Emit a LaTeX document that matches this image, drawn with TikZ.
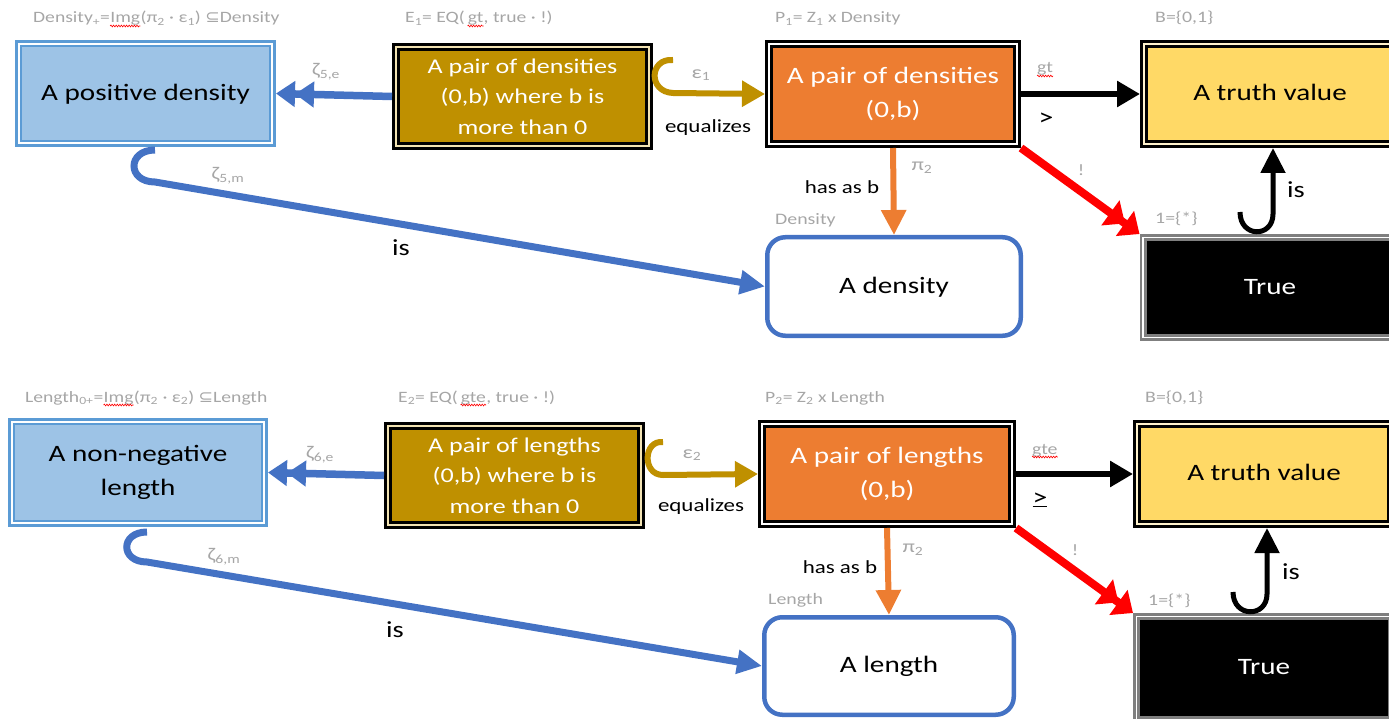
\documentclass[tikz,border=0pt]{standalone}
\usepackage{fontspec}
\setmainfont{Carlito}[FakeStretch=1.24]
\newfontfamily\symfont{DejaVu Sans}[FakeStretch=1.1]
\usetikzlibrary{arrows.meta,calc,decorations.pathmorphing}

\definecolor{boxblue}{HTML}{9DC3E6}
\definecolor{edgeblue}{HTML}{5B9BD5}
\definecolor{arrowblue}{HTML}{4472C4}
\definecolor{gold}{HTML}{BF9000}
\definecolor{cream}{HTML}{F2E3B3}
\definecolor{orng}{HTML}{ED7D31}
\definecolor{yel}{HTML}{FFD966}
\definecolor{paleyel}{HTML}{FFF2CC}
\definecolor{lbl}{HTML}{A6A6A6}
\definecolor{greyrim}{HTML}{7F7F7F}

\newcommand\fsBig{\fontsize{23.5}{34}\selectfont}
\newcommand\fsMid{\fontsize{21}{30.5}\selectfont}
\newcommand\fsLbl{\fontsize{18}{22}\selectfont}
\newcommand\fsTop{\fontsize{15.8}{19}\selectfont}
\newcommand\fsSml{\fontsize{16}{20}\selectfont}
\newcommand\fsEdge{\fontsize{18.5}{22}\selectfont}
\newcommand\fsIs{\fontsize{23}{26}\selectfont}

\tikzset{
  base/.style={align=center, inner sep=0pt},
  bluebox/.style={base, fill=boxblue, draw=edgeblue, line width=2.6pt,
    double=white, double distance=2.2pt, outer sep=3.7pt, font=\fsBig},
  goldbox/.style={base, fill=gold, draw=black, line width=3pt,
    double=cream, double distance=2pt, outer sep=4pt, font=\fsMid, text=white},
  orangebox/.style={base, fill=orng, draw=black, line width=3pt,
    double=white, double distance=1.6pt, outer sep=3.8pt, font=\fsBig, text=white},
  yellowbox/.style={base, fill=yel, draw=black, line width=3pt,
    double=paleyel, double distance=1.6pt, outer sep=3.8pt, font=\fsBig},
  truebox/.style={base, fill=black, draw=greyrim, line width=2.8pt,
    double=white, double distance=1.6pt, outer sep=3.6pt, font=\fsBig, text=white},
  roundbox/.style={base, fill=white, draw=arrowblue, line width=4.5pt,
    rounded corners=18pt, outer sep=2.25pt, font=\fsBig},
  lab/.style={inner sep=0pt, text=lbl, font=\fsLbl},
  toplab/.style={inner sep=0pt, text=lbl, font=\fsTop},
  smlab/.style={inner sep=0pt, text=lbl, font=\fsSml},
  edgelab/.style={inner sep=0pt, font=\fsEdge},
  islab/.style={inner sep=0pt, font=\fsIs},
  squig/.style={draw=red, line width=0.6pt,
    decorate, decoration={snake, amplitude=0.9pt, segment length=2.6pt}},
  blueproj/.style={draw=arrowblue, line width=7.5pt,
    -{Triangle[length=19pt,width=25pt,sep=0pt]Triangle[length=19pt,width=25pt]}},
  bluehook/.style={draw=arrowblue, line width=7pt, -{Triangle[length=25pt,width=23pt]}},
  goldarr/.style={draw=gold, line width=6pt, -{Triangle[length=23pt,width=25pt]}},
  orangearr/.style={draw=orng, line width=6pt, -{Triangle[length=25pt,width=24pt]}},
  blackarr/.style={draw=black, line width=6.5pt, -{Triangle[length=23pt,width=25pt]}},
  redarr/.style={draw=red, line width=8pt,
    -{Triangle[length=18pt,width=30pt,sep=0pt]Triangle[length=18pt,width=30pt]}},
  blackhook/.style={draw=black, line width=5pt, -{Triangle[length=25pt,width=24pt]}},
}

\begin{document}
\begin{tikzpicture}[x=1pt,y=-1pt]
\useasboundingbox (0,0) rectangle (1389,719);
\clip (0,0) rectangle (1389,719);

% ---------- upper diagram: densities ----------
\node[bluebox, minimum width=253.6pt, minimum height=99.6pt] (pd) at (145.5,93.5) {\strut A positive density};
\node[goldbox, minimum width=253pt, minimum height=99pt] (gp1) at (522.5,96.5)
  {A pair of densities\\(0,b) where b is\\more than 0};
\node[orangebox, minimum width=248.4pt, minimum height=100.4pt] (op1) at (893,94)
  {A pair of densities\\(0,b)};
\node[yellowbox, minimum width=252.4pt, minimum height=100.4pt] (yt1) at (1270,94) {\strut A truth value};
\node[roundbox, minimum width=253.5pt, minimum height=98.5pt] (den1) at (894,286.5) {\strut A density};
\node[truebox, minimum width=253.8pt, minimum height=99.8pt] (true1) at (1270,287.5) {\strut True};

% object names above the boxes
\node[toplab, anchor=base west] (t1a) at (33,23) {Density\textsubscript{+}=};
\node[toplab, anchor=base west] (t1b) at (t1a.base east) {Img};
\node[toplab, anchor=base west] (t1c) at (t1b.base east) {(π\textsubscript{2} · ε\textsubscript{1}) {\symfont ⊆}Density};
\draw[squig] ($(t1b.base west)+(0,3)$) -- ($(t1b.base east)+(0,3)$);
\node[toplab, anchor=base west] (t2a) at (405,23) {E\textsubscript{1}= EQ(\,};
\node[toplab, anchor=base west] (t2b) at (t2a.base east) {gt};
\node[toplab, anchor=base west] (t2c) at (t2b.base east) {, true · !)};
\draw[squig] ($(t2b.base west)+(0,3)$) -- ($(t2b.base east)+(0,3)$);
\node[toplab, anchor=base west] (t3) at (775,23)
  {P\textsubscript{1}= Z\textsubscript{1} x Density};
\node[smlab, anchor=base west] (t4) at (1155,23) {B=\{0,1\}};
\node[smlab, anchor=base west] (t5) at (775,225) {Density};
\node[smlab, anchor=base west] (t6) at (1155,224) {1=\{*\}};

\draw[blueproj] (gp1.west) -- (pd.east);
\node[lab] (z5e) at (326,72) {ζ\textsubscript{5,e}};

\coordinate (z5s) at (155,150);
\draw[bluehook] (z5s) .. controls (127,150) and (127,182) .. (155,182) -- (den1.west);
\node[lab] (z5m) at (228,176) {ζ\textsubscript{5,m}};
\node[islab] (is1) at (401,248) {is};

\coordinate (e1s) at (673,60);
\draw[goldarr] (e1s) .. controls (649,58) and (648,92) .. (673,93) -- (op1.west);
\node[lab] (eps1) at (701,75) {ε\textsubscript{1}};
\node[edgelab] (eq1) at (708,128) {equalizes};

\draw[orangearr] (op1.south) -- (den1.north);
\node[lab] (pi1) at (922,168) {π\textsubscript{2}};
\node[edgelab] (hb1) at (842,187) {has as b};

\draw[blackarr] (op1.east) -- (yt1.west);
\node[smlab, anchor=base west] (gt1) at (1037,73) {gt};
\draw[squig] ($(gt1.base west)+(0,3)$) -- ($(gt1.base east)+(0,3)$);
\node[edgelab, font=\fontsize{24}{26}\selectfont] (gtsym) at (1046,119) {>};

\draw[redarr] (op1.south east) -- (true1.north west);
\node[smlab] (bang1) at (1081,170) {!};

\coordinate (i1s) at (1240,212);
\coordinate (i1m) at (1273,214);
\draw[blackhook] (i1s) .. controls (1240,238) and (1273,238) .. (i1m) -- (i1m |- yt1.south);
\node[islab, anchor=west] (is2) at (1287,190) {is};

% ---------- lower diagram: lengths ----------
\node[bluebox, minimum width=252.6pt, minimum height=101.6pt] (nn) at (138,472.5) {A non-negative\\length};
\node[goldbox, minimum width=253pt, minimum height=99pt] (gp2) at (514.5,475.5)
  {A pair of lengths\\(0,b) where b is\\more than 0};
\node[orangebox, minimum width=250.4pt, minimum height=100.4pt] (op2) at (887,474)
  {A pair of lengths\\(0,b)};
\node[yellowbox, minimum width=254.4pt, minimum height=100.4pt] (yt2) at (1264,474) {\strut A truth value};
\node[roundbox, minimum width=249.5pt, minimum height=97.5pt] (len) at (889,666) {\strut A length};
\node[truebox, minimum width=254.8pt, minimum height=102.8pt] (true2) at (1264,668) {\strut True};

\node[toplab, anchor=base west] (b1a) at (25,402) {Length\textsubscript{0+}=};
\node[toplab, anchor=base west] (b1b) at (b1a.base east) {Img};
\node[toplab, anchor=base west] (b1c) at (b1b.base east) {(π\textsubscript{2} · ε\textsubscript{2}) {\symfont ⊆}Length};
\draw[squig] ($(b1b.base west)+(0,3)$) -- ($(b1b.base east)+(0,3)$);
\node[toplab, anchor=base west] (b2a) at (398,402) {E\textsubscript{2}= EQ(\,};
\node[toplab, anchor=base west] (b2b) at (b2a.base east) {gte};
\node[toplab, anchor=base west] (b2c) at (b2b.base east) {, true · !)};
\draw[squig] ($(b2b.base west)+(0,3)$) -- ($(b2b.base east)+(0,3)$);
\node[toplab, anchor=base west] (b3) at (765,402)
  {P\textsubscript{2}= Z\textsubscript{2} x Length};
\node[smlab, anchor=base west] (b4) at (1145,402) {B=\{0,1\}};
\node[smlab, anchor=base west] (b5) at (768,604) {Length};
\node[smlab, anchor=base west] (b6) at (1148,605) {1=\{*\}};

\draw[blueproj] (gp2.west) -- (nn.east);
\node[lab] (z6e) at (320,455) {ζ\textsubscript{6,e}};

\coordinate (z6s) at (147,532);
\draw[bluehook] (z6s) .. controls (120,532) and (120,562) .. (147,562) -- (len.west);
\node[lab] (z6m) at (224,557) {ζ\textsubscript{6,m}};
\node[islab] (is3) at (395,630) {is};

\coordinate (e2s) at (663,442);
\draw[goldarr] (e2s) .. controls (643,440) and (642,475) .. (663,475) -- (op2.west);
\node[lab] (eps2) at (692,455) {ε\textsubscript{2}};
\node[edgelab] (eq2) at (701,507) {equalizes};

\draw[orangearr] (op2.south) -- (len.north);
\node[lab] (pi2) at (913,550) {π\textsubscript{2}};
\node[edgelab] (hb2) at (840,567) {has as b};

\draw[blackarr] (op2.east) -- (yt2.west);
\node[smlab, anchor=base west] (gte2) at (1032,454) {gte};
\draw[squig] ($(gte2.base west)+(0,3)$) -- ($(gte2.base east)+(0,3)$);
\node[edgelab, font=\fontsize{24}{26}\selectfont] (gtesym) at (1040,500) {\underline{>}};

\draw[redarr] (op2.south east) -- (true2.north west);
\node[smlab] (bang2) at (1075,550) {!};

\coordinate (i2s) at (1233,592);
\coordinate (i2m) at (1267,594);
\draw[blackhook] (i2s) .. controls (1233,618) and (1267,618) .. (i2m) -- (i2m |- yt2.south);
\node[islab, anchor=west] (is4) at (1282,572) {is};
\end{tikzpicture}
\end{document}
